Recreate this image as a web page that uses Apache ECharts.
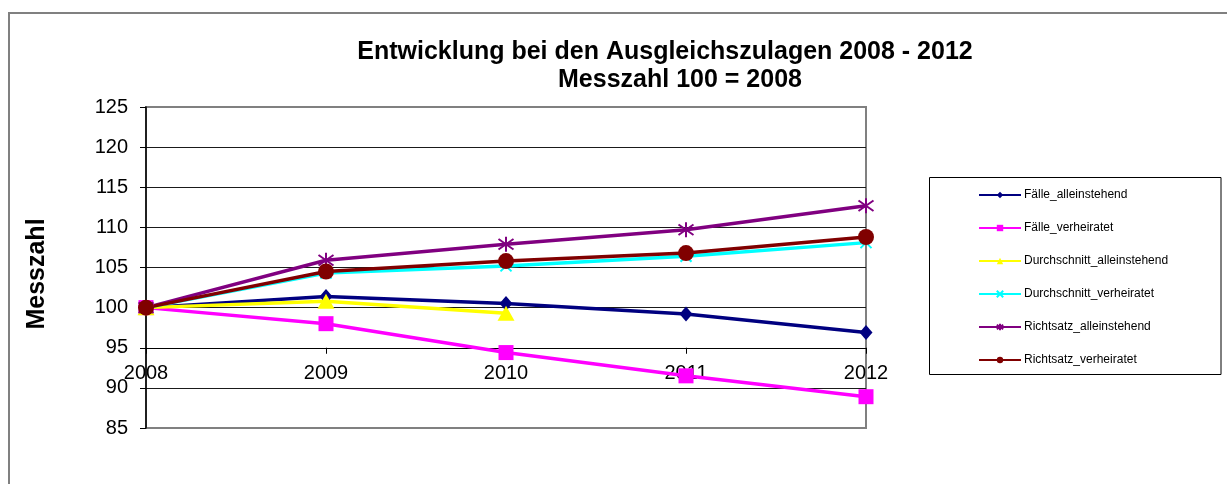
<!DOCTYPE html>
<html>
<head>
<meta charset="utf-8">
<title>Ausgleichszulagen 2008 - 2012</title>
<script src="https://cdn.jsdelivr.net/npm/echarts@6/dist/echarts.min.js"></script>
<style>
    html, body { margin: 0; padding: 0; background: #fff; }
    #chart { width: 1227px; height: 484px; }
</style>
</head>
<body>
<div id="chart"></div>
<script>
// data (index, 2008 = 100)
const years = ['2008', '2009', '2010', '2011', '2012']
const faelleAllein = [100, 101.4, 100.5, 99.2, 96.9]
const faelleVerh = [100, 98.0, 94.4, 91.5, 88.9]
const durchAllein = [100, 100.8, 99.3, null, null]
const durchVerh = [100, 104.3, 105.2, 106.4, 108.1]
const richtAllein = [100, 105.9, 107.9, 109.7, 112.7]
const richtVerh = [100, 104.5, 105.8, 106.8, 108.8]
const yTicks = { min: 85, max: 125, step: 5 }

const font = 'Liberation Sans, Arial, sans-serif'
const starPath = 'path://M5,0L5,10M0.7,1.5L9.3,8.5M9.3,1.5L0.7,8.5'
const crossPath = 'path://M0,0L10,10M10,0L0,10'

function lineSeries (name, data, color, symbol, size, stroked) {
    let s = {
        name: name,
        type: 'line',
        data: data,
        xAxisIndex: 0,
        yAxisIndex: 0,
        symbol: symbol,
        symbolSize: size,
        showAllSymbol: true,
        connectNulls: false,
        lineStyle: { color: color, width: 3.5 },
        itemStyle: { color: color, opacity: 1 }
    }
    if (stroked) {
        s.itemStyle.borderColor = color
        s.itemStyle.borderWidth = 2
    }
    return s
}

let chart = echarts.init(document.getElementById('chart'))
chart.setOption({
    animation: false,
    title: [
        {
            text: 'Entwicklung bei den Ausgleichszulagen 2008 - 2012',
            left: 660, top: 35, textAlign: 'center',
            textStyle: { fontFamily: font, fontSize: 25, fontWeight: 'bold', color: '#000' }
        },
        {
            text: 'Messzahl 100 = 2008',
            left: 675, top: 63, textAlign: 'center',
            textStyle: { fontFamily: font, fontSize: 25, fontWeight: 'bold', color: '#000' }
        }
    ],
    legend: {
        orient: 'vertical',
        left: 978,
        top: 189,
        itemWidth: 42,
        itemHeight: 8,
        itemGap: 21,
        padding: 0,
        textStyle: { fontFamily: font, fontSize: 12, color: '#000', padding: [0, 0, 0, -2] },
        data: ['Fälle_alleinstehend', 'Fälle_verheiratet', 'Durchschnitt_alleinstehend',
               'Durchschnitt_verheiratet', 'Richtsatz_alleinstehend', 'Richtsatz_verheiratet']
    },
    grid: [
        { left: 146, top: 107, width: 720, height: 321, show: true,
          borderColor: '#808080', borderWidth: 2, backgroundColor: 'transparent' },
        { left: 146, top: 107, width: 720, height: 240.75, show: false }
    ],
    xAxis: [
        { type: 'category', gridIndex: 0, data: years, boundaryGap: false, show: false },
        {
            type: 'category', gridIndex: 1, data: years, boundaryGap: false,
            axisLine: { show: true, lineStyle: { color: '#000', width: 1 } },
            axisTick: { show: true, length: 6, lineStyle: { color: '#000' } },
            axisLabel: { fontFamily: font, fontSize: 20, color: '#000', margin: 16 },
            splitLine: { show: false }
        }
    ],
    yAxis: [
        {
            type: 'value', gridIndex: 0,
            min: yTicks.min, max: yTicks.max, interval: yTicks.step,
            axisLine: { show: true, lineStyle: { color: '#000', width: 1.5 } },
            axisTick: { show: true, length: 6, lineStyle: { color: '#000' } },
            axisLabel: { fontFamily: font, fontSize: 20, color: '#000', margin: 18 },
            splitLine: { show: true, showMinLine: false, showMaxLine: false,
                         lineStyle: { color: '#1a1a1a', width: 1.2 } }
        },
        { type: 'value', gridIndex: 1, min: 0, max: 1, show: false }
    ],
    graphic: [
        { type: 'rect', shape: { x: 9, y: 13, width: 1260, height: 520 },
          style: { fill: 'none', stroke: '#808080', lineWidth: 2 }, z: -1 },
        { type: 'rect', shape: { x: 929.5, y: 177.5, width: 291.5, height: 197 },
          style: { fill: 'none', stroke: '#000', lineWidth: 1 }, z: -1 },
        { type: 'text', x: 37.5, y: 274, rotation: Math.PI / 2,
          style: { text: 'Messzahl', fontFamily: font, fontSize: 25, fontWeight: 'bold',
                   fill: '#000', align: 'center', verticalAlign: 'middle' } }
    ],
    series: [
        lineSeries('Fälle_alleinstehend', faelleAllein, '#000080', 'diamond', [13, 15], false),
        lineSeries('Fälle_verheiratet', faelleVerh, '#ff00ff', 'rect', 15, false),
        lineSeries('Durchschnitt_alleinstehend', durchAllein, '#ffff00', 'triangle', [17, 15], false),
        lineSeries('Durchschnitt_verheiratet', durchVerh, '#00ffff', crossPath, 11, true),
        lineSeries('Richtsatz_alleinstehend', richtAllein, '#800080', starPath, 15, true),
        lineSeries('Richtsatz_verheiratet', richtVerh, '#800000', 'circle', 16, false)
    ]
})
</script>
</body>
</html>
